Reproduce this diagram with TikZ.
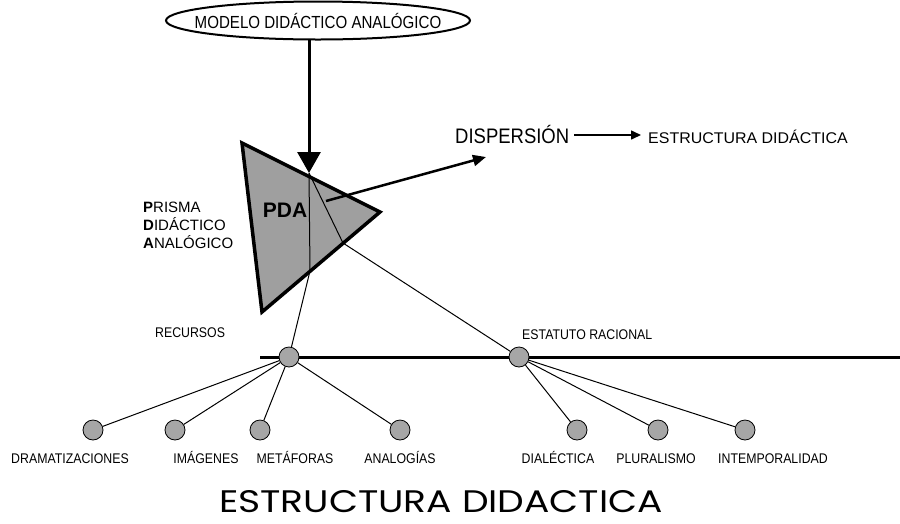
\documentclass[tikz,border=0pt]{standalone}
\usepackage{fontspec}
\usepackage{graphicx}
\setmainfont{Liberation Sans}
\newfontfamily\cf[FakeStretch=0.88]{Liberation Sans}
\newfontfamily\titlefont{Poppins}
\usetikzlibrary{arrows.meta,shapes.geometric}
\begin{document}
\begin{tikzpicture}[x=1pt,y=-1pt,
  lab/.style={inner sep=0pt, anchor=base west, font=\cf\fontsize{14}{14}\selectfont},
  prlab/.style={inner sep=0pt, anchor=base west, font=\fontsize{15}{15}\selectfont},
  dot/.style={circle, draw=black, line width=0.8pt, fill=gray!70, minimum size=20pt, inner sep=0pt},
  conn/.style={line width=1pt},
  bottomlab/.style={inner sep=0pt, anchor=base, font=\cf\fontsize{14}{14}\selectfont}]
\useasboundingbox (0,0) rectangle (900,523);
\fill[white] (0,0) rectangle (900,523);

% ellipse
\coordinate (ec) at (318,20.5);
\draw[line width=2pt] (ec) ellipse [x radius=152, y radius=19];
\node[inner sep=0pt, font=\cf\fontsize{17.5}{17.5}\selectfont] (mda) at (ec) {\scalebox{0.98}[1]{MODELO DIDÁCTICO ANALÓGICO}};
\coordinate (eb) at (309,39.5);

% prism
\coordinate (tA) at (242,143);
\coordinate (tB) at (380,212);
\coordinate (tC) at (262,312);
\coordinate (tip) at (309,173);
\coordinate (b1) at (310,271);
\coordinate (b2) at (343,243);
\coordinate (ds) at (326,201);
\coordinate (de) at (486,157);
\draw[line width=3.5pt, fill=gray!75, line join=miter] (tA) -- (tB) -- (tC) -- cycle;
\node[inner sep=0pt, font=\bfseries\fontsize{21}{21}\selectfont] (pda) at (285,210) {PDA};

\node[prlab] (p1) at (143,212) {\textbf{P}RISMA};
\node[prlab] (p2) at (143,230) {\textbf{D}IDÁCTICO};
\node[prlab] (p3) at (143,248) {\textbf{A}NALÓGICO};

% main arrow
\draw[line width=3pt, -{Triangle[width=23pt,length=21pt]}] (eb) -- (tip);

% dispersion
\node[lab, font=\cf\fontsize{21}{21}\selectfont] (disp) at (455,143) {DISPERSIÓN};
\node[lab, font=\fontsize{15.5}{15.5}\selectfont] (est) at (648,143) {\scalebox{1.03}[1]{ESTRUCTURA DIDÁCTICA}};
\coordinate (a1) at (574,135);
\coordinate (a2) at (641,135);
\draw[line width=2.5pt, -{Triangle[width=11pt,length=13pt]}] (ds) -- (de);
\draw[line width=1.6pt, -{Triangle[width=9pt,length=10pt]}] (a1) -- (a2);

% horizontal line and hubs
\coordinate (hl) at (260,357);
\coordinate (hr) at (900,357);
\draw[line width=3pt] (hl) -- (hr);
\node[dot] (rec) at (289,357) {};
\node[dot] (rac) at (519,357) {};
\node[lab] (reclab) at (155,337) {RECURSOS};
\node[lab] (raclab) at (522,339) {ESTATUTO RACIONAL};

% lines from prism
\draw[conn] (tip) -- (b1) -- (rec);
\draw[conn] (tip) -- (b2) -- (rac);

% bottom nodes
\node[dot] (n1) at (93,430) {};
\node[dot] (n2) at (175,430) {};
\node[dot] (n3) at (260,430) {};
\node[dot] (n4) at (400,430) {};
\node[dot] (n5) at (577,430) {};
\node[dot] (n6) at (658,430) {};
\node[dot] (n7) at (745,430) {};
\foreach \n in {n1,n2,n3,n4} \draw[conn] (rec) -- (\n);
\foreach \n in {n5,n6,n7} \draw[conn] (rac) -- (\n);

\node[bottomlab] (l1) at (70,463) {DRAMATIZACIONES};
\node[bottomlab] (l2) at (206,463) {IMÁGENES};
\node[bottomlab] (l3) at (295,463) {METÁFORAS};
\node[bottomlab] (l4) at (400,463) {ANALOGÍAS};
\node[bottomlab] (l5) at (558,463) {DIALÉCTICA};
\node[bottomlab] (l6) at (656,463) {PLURALISMO};
\node[bottomlab] (l7) at (773,463) {INTEMPORALIDAD};

% title
\node[inner sep=0pt] (title) at (441,502) {\resizebox{444pt}{22pt}{\titlefont ESTRUCTURA DIDACTICA}};
\end{tikzpicture}
\end{document}
